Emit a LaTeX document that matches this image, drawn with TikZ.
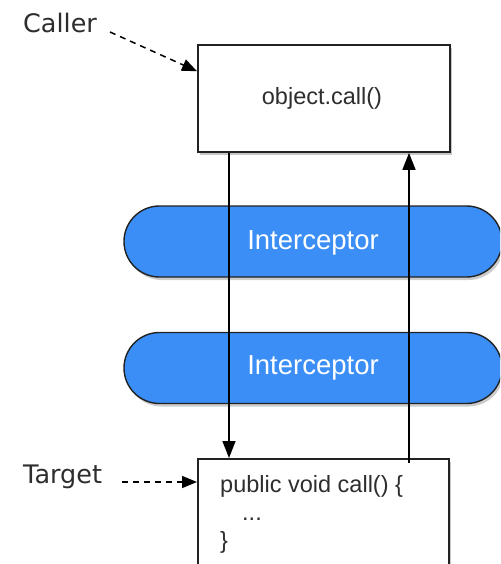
\documentclass[tikz,border=0pt]{standalone}
\usepackage{fontspec}
\setmainfont{Liberation Sans}
\newfontfamily\lblfont{DejaVu Sans}
\usetikzlibrary{arrows.meta,shapes.misc,shadows,calc}

\definecolor{icpblue}{HTML}{3A8EF6}
\definecolor{inktext}{HTML}{2E2E2E}
\definecolor{edge}{HTML}{222222}

\tikzset{
  codebox/.style={draw=edge, line width=1.9pt, fill=white, rectangle,
    drop shadow={shadow xshift=2.5pt, shadow yshift=-3pt, fill=black, opacity=.22}},
  interceptor/.style={rounded rectangle, draw=edge, line width=1.4pt, fill=icpblue,
    minimum width=378pt, minimum height=71pt, inner sep=0pt,
    drop shadow={shadow xshift=2pt, shadow yshift=-3pt, fill=black, opacity=.2}},
  icptext/.style={text=white, font=\fontsize{27.5}{32}\selectfont, anchor=base, inner sep=0pt},
  codetext/.style={text=inktext, font=\fontsize{23.5}{28}\selectfont, inner sep=0pt},
  lbltext/.style={text=inktext, font=\lblfont\fontsize{25.5}{30}\selectfont, anchor=base west, inner sep=0pt},
  flow/.style={draw=black, line width=1.5pt, -{Triangle[length=17pt,width=13pt]}},
  pointer/.style={draw=black, line width=1.5pt, dash pattern=on 6pt off 5pt,
    -{Triangle[length=15pt,width=12pt]}},
}

\begin{document}
\begin{tikzpicture}[x=1pt,y=-1pt]
  \useasboundingbox (0,0) rectangle (500,564);
  \clip (0,0) rectangle (500,564);
  \fill[white] (0,0) rectangle (500,564);

  % caller and target boxes
  \node[codebox, minimum width=252pt, minimum height=107pt, anchor=north west] (caller) at (197,44) {};
  \node[codebox, minimum width=251pt, minimum height=160pt, anchor=north west] (target) at (197,458) {};

  % interceptor chain
  \node[interceptor] (icpA) at (313,241.5) {};
  \node[interceptor] (icpB) at (313,368) {};
  \node[icptext] (icpAtext) at (313,249) {Interceptor};
  \node[icptext] (icpBtext) at (313,374) {Interceptor};

  % box contents
  \node[codetext, anchor=base] (calltext) at (322,105) {object.call()};
  \node[codetext, anchor=base west] (sig) at (220,492) {public void call() \{};
  \node[codetext, anchor=base west] (body) at (242,520) {...};
  \node[codetext, anchor=base west] (close) at (220,548) {\}};

  % side labels
  \node[lbltext] (callerlbl) at (23,33) {Caller};
  \node[lbltext] (targetlbl) at (23,483) {Target};

  % call flow through the interceptors
  \coordinate (downx) at (229,0);
  \coordinate (upx) at (409,0);
  \draw[flow] (caller.south -| downx) -- (target.north -| downx);
  \draw[flow] ([yshift=-5pt]target.north -| upx) -- (caller.south -| upx);

  % dashed pointers from the labels
  \coordinate (callerfrom) at (110,32);
  \coordinate (targetfrom) at (122,482);
  \draw[pointer] (callerfrom) -- ($(caller.north west)!0.25!(caller.south west)$);
  \draw[pointer] (targetfrom) -- ([yshift=-24pt]target.north west);
\end{tikzpicture}
\end{document}
